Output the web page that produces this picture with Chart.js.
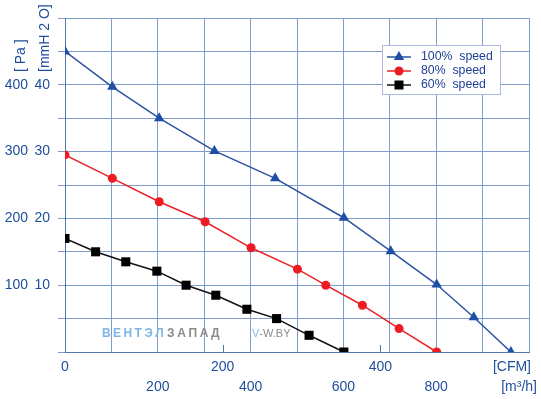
<!DOCTYPE html>
<html>
<head>
<meta charset="utf-8">
<script src="https://cdn.jsdelivr.net/npm/chart.js@4.4.1/dist/chart.umd.min.js"></script>
<style>
  html, body { margin: 0; padding: 0; background: #fff; }
</style>
</head>
<body>
<canvas id="chart" width="541" height="399"></canvas>
<script>
// flow in m3/h, pressure in Pa
const flow100 = [0, 102, 203, 322, 453, 601, 702, 801, 881, 961];
const pa100 = [450, 397, 350, 301, 260, 201, 151, 101, 52, 0];
const flow80 = [0, 102, 203, 302, 401, 501, 562, 641, 720, 801];
const pa80 = [295, 260, 225, 195, 156, 124, 100, 70, 35, 0];
const flow60 = [0, 66, 131, 198, 261, 325, 392, 456, 526, 601];
const pa60 = [170, 150, 135, 121, 100, 85, 64, 50, 25, 0];

const seriesNames = ["100%  speed", "80%  speed", "60%  speed"];
const paTicks = [100, 200, 300, 400];
const mmTicks = [10, 20, 30, 40];
const m3hTicks = [200, 400, 600, 800];
const cfmTicks = [0, 200, 400];
const M3H_PER_CFM = 1.699;

const FONT = "'Liberation Sans', Arial, sans-serif";
const TEXT = "#1f4e9a";
const GRID = "#7f9cca";
const AXIS = "#5677b0";

const toPoints = (xs, ys) => xs.map((x, i) => ({ x: x, y: ys[i] }));
const steps = (max, step) => {
  const out = [];
  for (let v = 0; v <= max + 1e-9; v += step) out.push({ value: Math.round(v * 100) / 100 });
  return out;
};

// -------------------------
// extra drawing: units, watermark, legend
// -------------------------
function spaced(c, text, x, y, gap) {
  for (const ch of text) {
    c.fillText(ch, x, y);
    x += c.measureText(ch).width + gap;
  }
  return x;
}

function marker(c, style, x, y, color) {
  c.fillStyle = color;
  c.beginPath();
  if (style === "triangle") {
    const r = 6;
    c.moveTo(x, y - r);
    c.lineTo(x + r * 0.866, y + r / 2);
    c.lineTo(x - r * 0.866, y + r / 2);
    c.closePath();
  } else if (style === "circle") {
    c.arc(x, y, 4.5, 0, Math.PI * 2);
  } else {
    c.rect(x - 4.5, y - 4.5, 9, 9);
  }
  c.fill();
}

const decor = {
  id: "decor",
  beforeDatasetsDraw(chart) {
    const c = chart.ctx;
    const area = chart.chartArea;
    c.save();

    // short inner ticks for the CFM axis
    const sx = chart.scales.xcfm;
    c.strokeStyle = AXIS;
    c.lineWidth = 1;
    [200, 400].forEach((v) => {
      const px = Math.round(sx.getPixelForValue(v)) + 0.5;
      c.beginPath();
      c.moveTo(px, area.bottom);
      c.lineTo(px, area.bottom - 7);
      c.stroke();
    });

    // watermark
    c.textBaseline = "middle";
    c.textAlign = "left";
    c.font = "bold 12px " + FONT;
    c.fillStyle = "#7fb5e6";
    let x = spaced(c, "ВЕНТЭЛ", 102, 334, 2.4);
    c.fillStyle = "#8c8c8c";
    spaced(c, "ЗАПАД", x + 1, 334, 2.6);
    c.font = "11px 'Liberation Sans Narrow', " + FONT;
    c.fillStyle = "#7fb5e6";
    c.fillText("V", 252, 334);
    c.fillStyle = "#8c8c8c";
    c.fillText("-W.BY", 252 + c.measureText("V").width, 334);
    c.restore();
  },
  afterDraw(chart) {
    const c = chart.ctx;
    c.save();
    c.fillStyle = TEXT;
    c.font = "14px " + FONT;
    c.textBaseline = "middle";

    // bottom units
    c.textAlign = "right";
    c.fillText("[CFM]", 531, 367);
    c.fillText("[m³/h]", 537, 387);

    // left units, rotated
    c.textAlign = "left";
    [["[ Pa ]", 21], ["[mmH 2 O]", 45]].forEach(([t, px]) => {
      c.save();
      c.translate(px, 72);
      c.rotate(-Math.PI / 2);
      c.fillText(t, 0, 0);
      c.restore();
    });

    // legend box
    c.fillStyle = "#ffffff";
    c.fillRect(382, 45, 119, 50);
    c.strokeStyle = "#a9bbde";
    c.lineWidth = 1;
    c.strokeRect(382.5, 45.5, 118, 49);
    const rows = [57, 71, 85];
    chart.data.datasets.forEach((ds, i) => {
      const y = rows[i];
      c.strokeStyle = ds.borderColor;
      c.lineWidth = 1.5;
      c.beginPath();
      c.moveTo(387, y);
      c.lineTo(411, y);
      c.stroke();
      marker(c, ds.pointStyle, 399, y, ds.pointBackgroundColor);
      c.fillStyle = "#1e3f95";
      c.font = "12.3px " + FONT;
      c.textAlign = "left";
      c.fillText(ds.label, 421, y);
    });
    c.restore();
  },
};

const tickFont = { family: FONT, size: 14 };

new Chart(document.getElementById("chart"), {
  type: "line",
  data: {
    datasets: [
      {
        label: seriesNames[0],
        data: toPoints(flow100, pa100),
        borderColor: "#2b53a3",
        pointBackgroundColor: "#1f4ea6",
        pointStyle: "triangle",
        pointRadius: 6,
      },
      {
        label: seriesNames[1],
        data: toPoints(flow80, pa80),
        borderColor: "#ec2226",
        pointBackgroundColor: "#ec1c24",
        pointStyle: "circle",
        pointRadius: 4.5,
      },
      {
        label: seriesNames[2],
        data: toPoints(flow60, pa60),
        borderColor: "#111111",
        pointBackgroundColor: "#000000",
        pointStyle: "rect",
        pointRadius: 6.4,
      },
    ].map((d) => Object.assign(d, { borderWidth: 1.5, pointBorderWidth: 0, tension: 0, fill: false })),
  },
  options: {
    responsive: false,
    animation: false,
    events: [],
    layout: { padding: { top: 18, right: 12, left: 0, bottom: 0 } },
    plugins: { legend: { display: false }, tooltip: { enabled: false } },
    scales: {
      x: {
        type: "linear",
        position: "bottom",
        weight: 1,
        min: 0,
        max: 1000,
        afterBuildTicks: (s) => { s.ticks = steps(1000, 100); },
        afterFit: (s) => { s.height = 25; },
        ticks: {
          autoSkip: false,
          maxRotation: 0,
          padding: 5,
          color: TEXT,
          font: tickFont,
          callback: (v) => (m3hTicks.includes(v) ? String(v) : ""),
        },
        grid: { color: GRID, drawTicks: false },
        border: { display: false },
      },
      xcfm: {
        type: "linear",
        position: "bottom",
        weight: 0,
        min: 0,
        max: 1000 / M3H_PER_CFM,
        afterBuildTicks: (s) => { s.ticks = cfmTicks.map((v) => ({ value: v })); },
        afterFit: (s) => { s.height = 22; },
        ticks: {
          autoSkip: false,
          maxRotation: 0,
          padding: 7,
          color: TEXT,
          font: tickFont,
          callback: (v) => String(v),
        },
        grid: { drawOnChartArea: false, drawTicks: false },
        border: { display: true, color: AXIS },
      },
      y: {
        type: "linear",
        position: "left",
        weight: 1,
        min: 0,
        max: 500,
        afterBuildTicks: (s) => { s.ticks = steps(500, 50); },
        afterFit: (s) => { s.width = 30; },
        ticks: {
          autoSkip: false,
          padding: 2,
          color: TEXT,
          font: tickFont,
          callback: (v) => (paTicks.includes(v) ? String(v) : ""),
        },
        grid: { display: false, drawTicks: false },
        border: { display: false },
      },
      ymm: {
        type: "linear",
        position: "left",
        weight: 0,
        min: 0,
        max: 50,
        afterBuildTicks: (s) => { s.ticks = steps(50, 5); },
        afterFit: (s) => { s.width = 35; },
        ticks: {
          autoSkip: false,
          padding: 8,
          color: TEXT,
          font: tickFont,
          callback: (v) => (mmTicks.includes(v) ? String(v) : ""),
        },
        grid: { color: GRID, drawTicks: true, tickLength: 7 },
        border: { display: true, color: AXIS },
      },
    },
  },
  plugins: [decor],
});
</script>
</body>
</html>
